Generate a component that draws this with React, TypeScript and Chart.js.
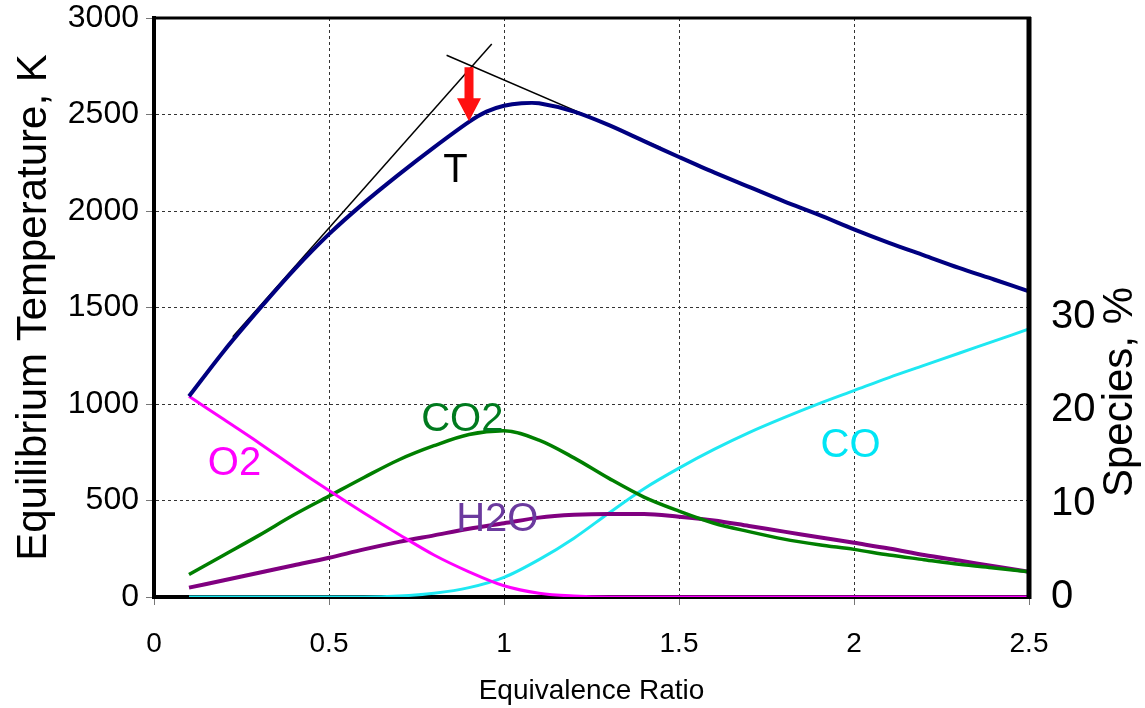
import React, { useEffect, useRef } from 'react';
import { Chart, registerables } from 'chart.js';

Chart.register(...registerables);

// ---- Data ----
const tPhi = [0.1, 0.2, 0.3, 0.4, 0.5, 0.6, 0.7, 0.8, 0.9, 0.95, 1.0, 1.05, 1.1, 1.2, 1.3, 1.4, 1.5, 1.6, 1.7, 1.8, 1.9, 2.0, 2.1, 2.2, 2.3, 2.4, 2.5];
const temperatureK = [1040, 1275, 1490, 1695, 1880, 2042, 2190, 2330, 2462, 2515, 2545, 2558, 2558, 2515, 2445, 2362, 2280, 2200, 2125, 2050, 1980, 1905, 1835, 1770, 1705, 1645, 1584];

const phi = [0.1, 0.2, 0.3, 0.4, 0.5, 0.6, 0.7, 0.8, 0.9, 1.0, 1.1, 1.2, 1.3, 1.4, 1.5, 1.6, 1.7, 1.8, 1.9, 2.0, 2.1, 2.2, 2.3, 2.4, 2.5];
const o2Pct = [21.5, 19.0, 16.5, 13.9, 11.4, 9.0, 6.7, 4.5, 2.7, 1.2, 0.4, 0.1, 0, 0, 0, 0, 0, 0, 0, 0, 0, 0, 0, 0, 0];
const co2Pct = [2.4, 4.5, 6.6, 8.8, 10.8, 12.8, 14.7, 16.2, 17.4, 17.8, 16.8, 14.9, 12.7, 10.7, 9.2, 7.9, 7.0, 6.2, 5.6, 5.1, 4.5, 4.0, 3.5, 3.1, 2.7];
const h2oPct = [1.0, 1.8, 2.6, 3.4, 4.2, 5.1, 5.9, 6.6, 7.3, 7.9, 8.5, 8.8, 8.9, 8.9, 8.6, 8.2, 7.6, 7.0, 6.4, 5.8, 5.2, 4.5, 3.9, 3.3, 2.7];
const coPct = [0, 0, 0, 0, 0, 0, 0.1, 0.4, 1.0, 2.1, 4.0, 6.3, 9.0, 11.6, 13.8, 15.8, 17.6, 19.2, 20.7, 22.1, 23.5, 24.8, 26.1, 27.4, 28.7];

const tangent1Phi = [0.225, 0.965];
const tangent1K = [1348, 2865];
const tangent2Phi = [0.836, 1.45];
const tangent2K = [2807, 2327];

const arrowPhi = 0.9;
const arrowFromK = 2745;
const arrowToK = 2465;

const xTicks = [0, 0.5, 1, 1.5, 2, 2.5];
const tempTicks = [0, 500, 1000, 1500, 2000, 2500, 3000];
const speciesTicks = [0, 10, 20, 30];

const curveLabels = ['T', 'O2', 'CO2', 'H2O', 'CO'];
const curveLabelPhi = [0.861, 0.23, 0.881, 0.981, 1.99];
const curveLabelK = [2205, 690, 918, 400, 784];
const curveLabelColors = ['#000000', '#ff00ff', '#007a1e', '#6b3a9e', '#00e5f5'];

const FONT = 'Arial, "Liberation Sans", Helvetica, sans-serif';

const pts = (xs: number[], ys: number[]) => xs.map((x, i) => ({ x, y: ys[i] }));

const annotationPlugin = {
  id: 'annotations',
  afterDatasetsDraw(chart: any) {
    const { ctx, chartArea, scales } = chart;
    const xs = scales.x;
    const ys = scales.y;
    ctx.save();
    // frame: top and right borders
    ctx.strokeStyle = '#000';
    ctx.lineWidth = 3;
    ctx.beginPath();
    ctx.moveTo(chartArea.left - 2, chartArea.top);
    ctx.lineTo(chartArea.right + 2, chartArea.top);
    ctx.stroke();
    ctx.lineWidth = 5;
    ctx.beginPath();
    ctx.moveTo(chartArea.right, chartArea.top - 1);
    ctx.lineTo(chartArea.right, chartArea.bottom + 2);
    ctx.stroke();

    // red arrow
    const ax = xs.getPixelForValue(arrowPhi);
    const ay0 = ys.getPixelForValue(arrowFromK);
    const ay1 = ys.getPixelForValue(arrowToK);
    const headLen = 23;
    const headHalf = 12;
    const shaftHalf = 4.5;
    ctx.fillStyle = '#ff1010';
    ctx.beginPath();
    ctx.moveTo(ax - shaftHalf, ay0);
    ctx.lineTo(ax + shaftHalf, ay0);
    ctx.lineTo(ax + shaftHalf, ay1 - headLen);
    ctx.lineTo(ax + headHalf, ay1 - headLen);
    ctx.lineTo(ax, ay1);
    ctx.lineTo(ax - headHalf, ay1 - headLen);
    ctx.lineTo(ax - shaftHalf, ay1 - headLen);
    ctx.closePath();
    ctx.fill();

    // curve labels
    ctx.font = `40px ${FONT}`;
    ctx.textAlign = 'center';
    ctx.textBaseline = 'middle';
    curveLabels.forEach((t, i) => {
      ctx.fillStyle = curveLabelColors[i];
      ctx.fillText(t, xs.getPixelForValue(curveLabelPhi[i]), ys.getPixelForValue(curveLabelK[i]));
    });

    // right axis title
    ctx.save();
    ctx.translate(1120, 392);
    ctx.rotate(-Math.PI / 2);
    ctx.fillStyle = '#000';
    ctx.font = `42px ${FONT}`;
    ctx.fillText('Species, %', 0, 0);
    ctx.restore();
    ctx.restore();
  },
};

export default function App() {
  const ref = useRef<HTMLCanvasElement | null>(null);
  useEffect(() => {
    if (!ref.current) return;
    const chart = new Chart(ref.current, {
      type: 'line',
      data: {
        datasets: [
          {
            label: 'T',
            data: pts(tPhi, temperatureK),
            borderColor: '#000080',
            borderWidth: 4,
            yAxisID: 'y',
            tension: 0.3,
          },
          {
            label: 'tangent1',
            data: pts(tangent1Phi, tangent1K),
            borderColor: '#000000',
            borderWidth: 1.5,
            yAxisID: 'y',
          },
          {
            label: 'tangent2',
            data: pts(tangent2Phi, tangent2K),
            borderColor: '#000000',
            borderWidth: 1.5,
            yAxisID: 'y',
          },
          {
            label: 'O2',
            data: pts(phi, o2Pct),
            borderColor: '#ff00ff',
            borderWidth: 3,
            yAxisID: 'y2',
            cubicInterpolationMode: 'monotone',
          },
          {
            label: 'CO2',
            data: pts(phi, co2Pct),
            borderColor: '#007f00',
            borderWidth: 3.5,
            yAxisID: 'y2',
            cubicInterpolationMode: 'monotone',
          },
          {
            label: 'H2O',
            data: pts(phi, h2oPct),
            borderColor: '#800080',
            borderWidth: 4,
            yAxisID: 'y2',
            cubicInterpolationMode: 'monotone',
          },
          {
            label: 'CO',
            data: pts(phi, coPct),
            borderColor: '#1ee8f2',
            borderWidth: 3,
            yAxisID: 'y2',
            cubicInterpolationMode: 'monotone',
          },
        ],
      },
      options: {
        responsive: false,
        animation: false,
        layout: { padding: { top: 18, left: 0, right: 0, bottom: 0 } },
        elements: { point: { radius: 0, hoverRadius: 0 } },
        plugins: { legend: { display: false }, tooltip: { enabled: false }, title: { display: false } },
        scales: {
          x: {
            type: 'linear',
            min: 0,
            max: 2.5,
            afterBuildTicks: (s: any) => {
              s.ticks = xTicks.map((v) => ({ value: v }));
            },
            afterFit: (s: any) => {
              s.height = 111;
              s.paddingLeft = 0;
              s.paddingRight = 0;
            },
            ticks: {
              color: '#000',
              font: { family: FONT, size: 28 },
              padding: 22,
              maxRotation: 0,
              callback: (v: any) => String(v),
            },
            grid: { color: '#333', lineWidth: 1, tickLength: 8, tickColor: '#777', tickBorderDash: [] },
            border: { display: true, color: '#000', width: 4, dash: [3, 3] },
            title: {
              display: true,
              text: 'Equivalence Ratio',
              color: '#000',
              font: { family: FONT, size: 28 },
              padding: { top: 0, bottom: 0 },
            },
          },
          y: {
            type: 'linear',
            position: 'left',
            min: 0,
            max: 3000,
            afterBuildTicks: (s: any) => {
              s.ticks = tempTicks.map((v) => ({ value: v }));
            },
            afterFit: (s: any) => {
              s.width = 154;
              s.paddingTop = 0;
              s.paddingBottom = 0;
            },
            ticks: {
              color: '#000',
              font: { family: FONT, size: 32 },
              padding: 7,
              callback: (v: any) => String(v),
            },
            grid: { color: '#333', lineWidth: 1, tickLength: 8, tickColor: '#777', tickBorderDash: [] },
            border: { display: true, color: '#000', width: 4, dash: [3, 3] },
            title: {
              display: true,
              text: 'Equilibrium Temperature, K',
              color: '#000',
              font: { family: FONT, size: 42 },
              padding: { top: 9, bottom: 0 },
            },
          },
          y2: {
            type: 'linear',
            position: 'right',
            min: 0,
            max: 62,
            afterBuildTicks: (s: any) => {
              s.ticks = speciesTicks.map((v) => ({ value: v }));
            },
            afterFit: (s: any) => {
              s.width = 116;
              s.paddingTop = 0;
              s.paddingBottom = 0;
            },
            ticks: {
              color: '#000',
              font: { family: FONT, size: 40 },
              padding: 22,
              callback: (v: any) => String(v),
            },
            grid: { display: false, drawTicks: false },
            border: { display: false },
          },
        },
      },
      plugins: [annotationPlugin],
    });
    return () => chart.destroy();
  }, []);

  return (
    <div style={{ position: 'absolute', left: 0, top: 0, width: 1145, height: 708, background: '#fff' }}>
      <canvas ref={ref} width={1145} height={708} style={{ display: 'block' }} />
    </div>
  );
}
